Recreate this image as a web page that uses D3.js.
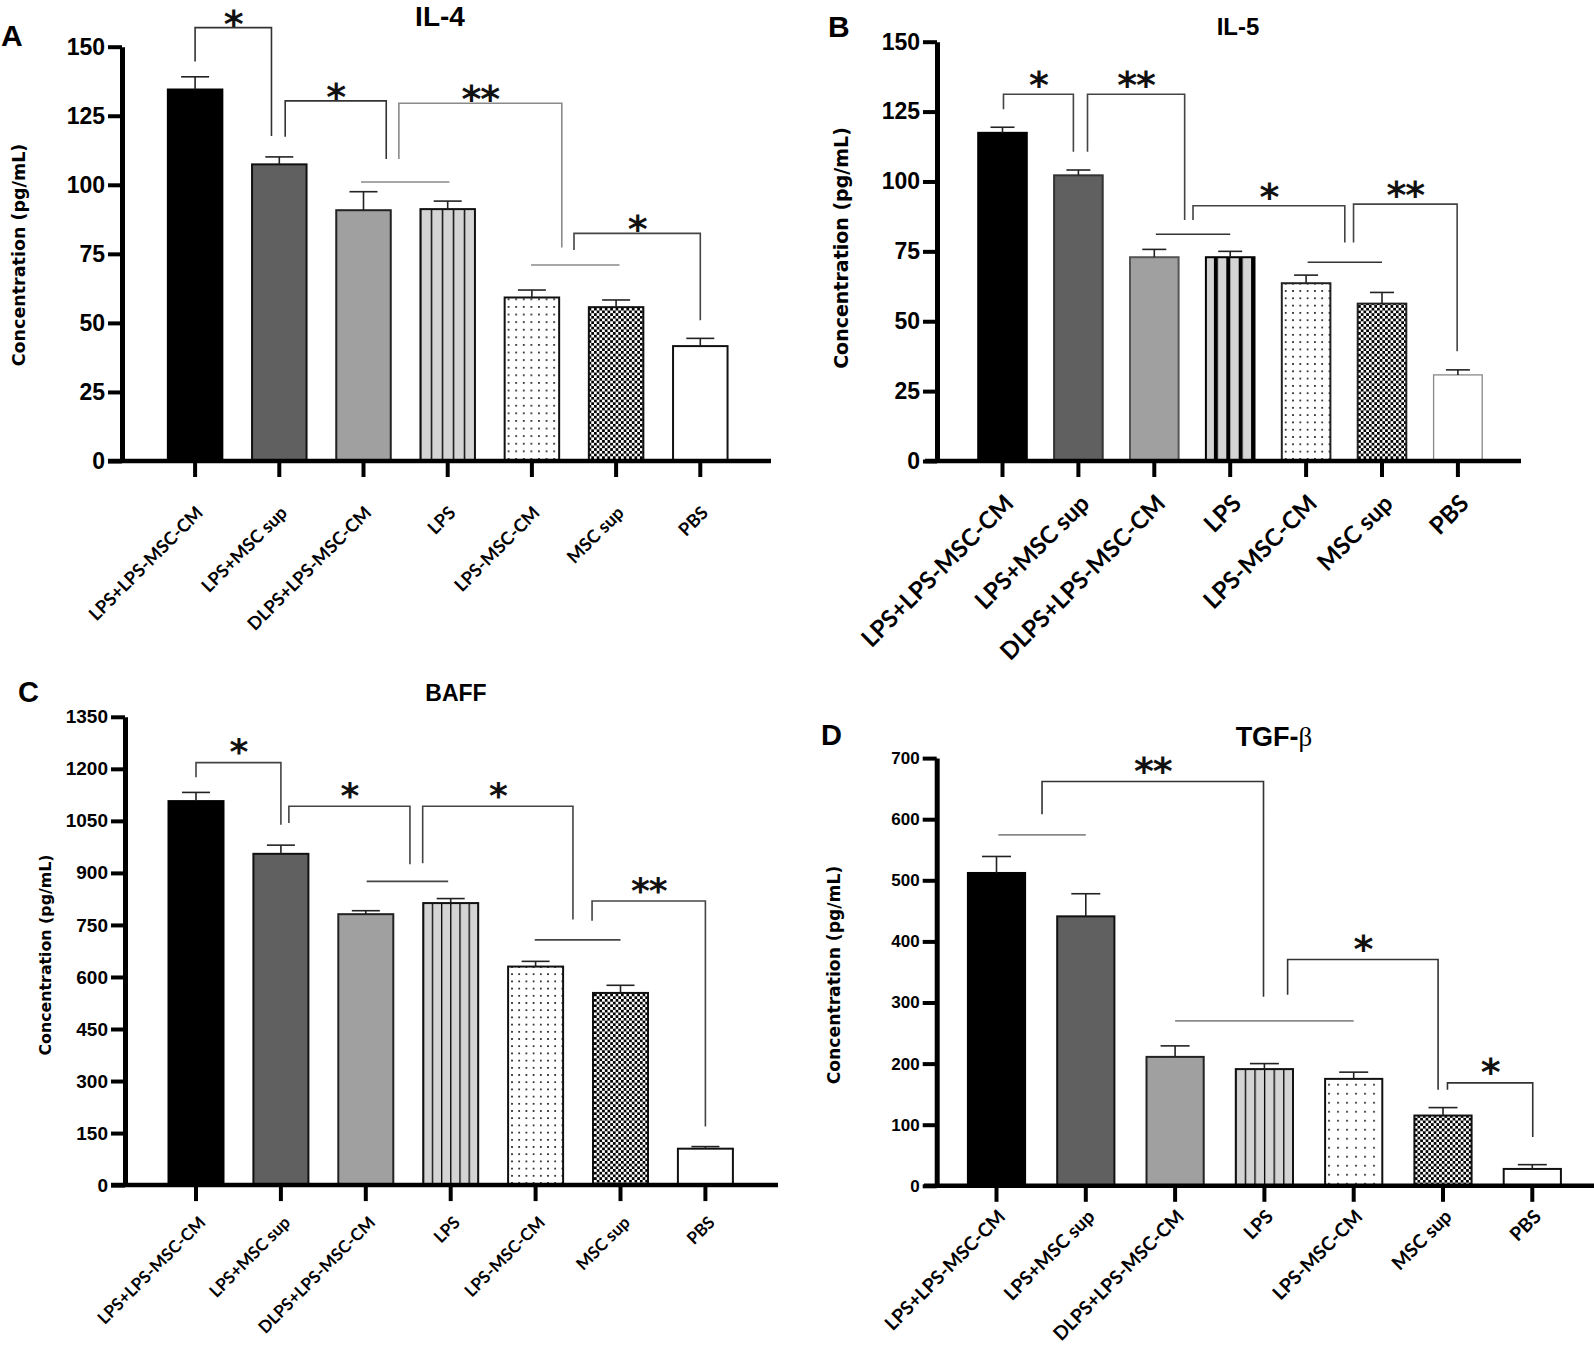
<!DOCTYPE html>
<html><head><meta charset="utf-8">
<script src="https://cdn.jsdelivr.net/npm/d3@7"></script>
<style>body{margin:0;background:#fff}svg{display:block;background:#fff}</style>
</head><body>
<svg id="chart" width="1594" height="1351"></svg>
<script>
// ---------------- DATA ----------------
const categories = ["LPS+LPS-MSC-CM","LPS+MSC sup","DLPS+LPS-MSC-CM","LPS","LPS-MSC-CM","MSC sup","PBS"];

const il4Mean = [134.5, 107.4, 90.8, 91.2, 59.2, 55.7, 41.6];
const il4Sem  = [4.6, 2.7, 6.7, 2.9, 2.7, 2.6, 2.8];
const il4Ticks = [0, 25, 50, 75, 100, 125, 150];

const il5Mean = [117.4, 102.2, 72.9, 72.9, 63.6, 56.3, 30.8];
const il5Sem  = [2.0, 1.9, 2.8, 2.1, 2.9, 4.0, 1.8];
const il5Ticks = [0, 25, 50, 75, 100, 125, 150];

const baffMean = [1107, 955, 781, 813, 630, 554, 105];
const baffSem  = [25, 25, 10, 13, 15, 22, 6];
const baffTicks = [0, 150, 300, 450, 600, 750, 900, 1050, 1200, 1350];

const tgfMean = [512, 441, 211, 191, 175, 115, 27.6];
const tgfSem  = [27, 37, 18, 9, 11, 13, 7];
const tgfTicks = [0, 100, 200, 300, 400, 500, 600, 700];

// significance brackets: category index (fractional) and value units
const il4Brackets = [
  {from:0.0,  to:0.907, fromY:144.6, topY:156.9, toY:117.7, mark:"*"},
  {from:1.07, to:2.27,  fromY:117.4, topY:130.4, toY:109.3, mark:"*"},
  {from:2.42, to:4.355, fromY:109.3, topY:129.5, toY:77.3,  mark:"**"},
  {from:4.50, to:6.0,   fromY:76.4,  topY:82.4,  toY:51.0,  mark:"*"}
];
const il4Groups = [{from:1.97, to:3.02, y:101.0}, {from:3.99, to:5.04, y:70.95}];

const il5Brackets = [
  {from:0.013, to:0.934, fromY:125.8, topY:131.2, toY:110.6, mark:"*"},
  {from:1.12,  to:2.40,  fromY:110.6, topY:131.2, toY:86.2,  mark:"**"},
  {from:2.51,  to:4.51,  fromY:86.2,  topY:91.3,  toY:78.2,  mark:"*"},
  {from:4.625, to:5.99,  fromY:78.2,  topY:91.9,  toY:39.3,  mark:"**"}
];
const il5Groups = [{from:2.02, to:3.0, y:81.1}, {from:4.02, to:5.0, y:71.1}];

const baffBrackets = [
  {from:0.0,   to:1.0,  fromY:1176, topY:1218, toY:1039, mark:"*"},
  {from:1.094, to:2.52, fromY:1044, topY:1092, toY:925,  mark:"*"},
  {from:2.67,  to:4.44, fromY:928,  topY:1092, toY:766,  mark:"*"},
  {from:4.665, to:6.0,  fromY:762,  topY:819,  toY:169,  mark:"**"}
];
const baffGroups = [{from:2.01, to:2.97, y:875.5}, {from:3.99, to:5.0, y:706.8}];

const tgfBrackets = [
  {from:0.51, to:2.99,  fromY:608.1, topY:661.7, toY:309.4, mark:"**"},
  {from:3.26, to:4.945, fromY:312.8, topY:370.3, toY:157.2, mark:"*"},
  {from:5.05, to:6.005, fromY:157.2, topY:168.5, toY:80.0,  mark:"*"}
];
const tgfGroups = [{from:0.02, to:1.0, y:574.3}, {from:2.0, to:4.0, y:270}];

// ---------------- LAYOUT / STYLE ----------------
const NARROW = "'Liberation Sans','Arial',sans-serif";
const LABEL = "Lato,'Open Sans',sans-serif";
const AXT = "'DejaVu Sans',Verdana,sans-serif";

const panels = [
  {id:"A", letter:"A", title:"IL-4", mean:il4Mean, sem:il4Sem, ticks:il4Ticks, yMax:150,
   brackets:il4Brackets, groups:il4Groups,
   ax:122, y0:461, yTop:46.7, xStart:108, xEnd:771, c0:195.1, step:84.2, barW:54.5, capW:28,
   tickFont:23, labFont:18, labDx:9, labDy:53,
   axTitle:{x:24.6, y:255, size:17.5},
   titlePos:{x:440, y:26, size:28}, letterPos:{x:1, y:46, size:30},
   stripe:{period:11, w:1.4, off:-0.7, fill:"#d4d4d4"}, dot:7.6,
   bracketCol:["#333","#333","#8a8a8a","#444"], groupCol:"#8a8a8a", starOff:13, starSize:38},
  {id:"B", letter:"B", title:"IL-5", mean:il5Mean, sem:il5Sem, ticks:il5Ticks, yMax:150,
   brackets:il5Brackets, groups:il5Groups,
   ax:937, y0:461, yTop:41.7, xStart:925, xEnd:1521, c0:1002.5, step:75.9, barW:48.6, capW:24,
   tickFont:23, labFont:24, labDx:12.5, labDy:44,
   axTitle:{x:848, y:248, size:19},
   titlePos:{x:1238, y:35, size:24}, letterPos:{x:828, y:37, size:30},
   stripe:{period:12.4, w:4, off:8, fill:"#d4d4d4"}, dot:7.3,
   bracketCol:["#444","#444","#444","#444"], groupCol:"#333", starOff:18, starSize:38},
  {id:"C", letter:"C", title:"BAFF", mean:baffMean, sem:baffSem, ticks:baffTicks, yMax:1350,
   brackets:baffBrackets, groups:baffGroups,
   ax:125, y0:1185.1, yTop:716.8, xStart:111, xEnd:778, c0:196, step:84.9, barW:55, capW:28,
   tickFont:19, labFont:17, labDx:10.5, labDy:38.5,
   axTitle:{x:51, y:955, size:15.8},
   titlePos:{x:456, y:701, size:23}, letterPos:{x:18, y:702, size:29},
   stripe:{period:9.2, w:1.3, off:-0.65, fill:"#d4d4d4"}, dot:7.2,
   bracketCol:["#444","#444","#444","#444"], groupCol:"#444", starOff:19, starSize:36},
  {id:"D", letter:"D", title:"TGF-", mean:tgfMean, sem:tgfSem, ticks:tgfTicks, yMax:700,
   brackets:tgfBrackets, groups:tgfGroups,
   ax:936.7, y0:1185.8, yTop:758.1, xStart:924, xEnd:1594, c0:996.5, step:89.3, barW:57.2, capW:29,
   tickFont:17, labFont:19, labDx:10, labDy:32,
   axTitle:{x:839.5, y:975, size:17.2},
   titlePos:{x:1274, y:746, size:27}, letterPos:{x:821, y:745, size:29},
   stripe:{period:9.6, w:1.3, off:-0.65, fill:"#d4d4d4"}, dot:9,
   bracketCol:["#333","#333","#333"], groupCol:"#8a8a8a", starOff:20, starSize:38}
];

const svg = d3.select("#chart");
const defs = svg.append("defs");

function drawPanel(p) {
  const g = svg.append("g").attr("class", "panel-" + p.id);
  const n = categories.length;
  const x = d3.scaleBand().domain(categories)
    .range([p.c0 - p.step / 2, p.c0 + p.step * (n - 0.5)]).padding(0);
  const cx = c => x(c) + x.bandwidth() / 2;
  const xi = d3.scaleLinear().domain([0, n - 1]).range([cx(categories[0]), cx(categories[n - 1])]);
  const y = d3.scaleLinear().domain([0, p.yMax]).range([p.y0, p.yTop]);

  // patterns
  const bar4Left = cx(categories[3]) - p.barW / 2;
  const st = defs.append("pattern").attr("id", "stripe" + p.id).attr("patternUnits", "userSpaceOnUse")
    .attr("x", bar4Left + p.stripe.off).attr("y", 0).attr("width", p.stripe.period).attr("height", 20);
  st.append("rect").attr("width", p.stripe.period).attr("height", 20).attr("fill", p.stripe.fill);
  st.append("rect").attr("x", 0).attr("width", p.stripe.w).attr("height", 20).attr("fill", "#000");

  const bar5Left = cx(categories[4]) - p.barW / 2;
  const dt = defs.append("pattern").attr("id", "dots" + p.id).attr("patternUnits", "userSpaceOnUse")
    .attr("x", bar5Left + 3).attr("y", p.y0 - 3).attr("width", p.dot).attr("height", p.dot);
  dt.append("rect").attr("width", p.dot).attr("height", p.dot).attr("fill", "#fff");
  dt.append("rect").attr("x", 0).attr("y", 0).attr("width", 1.8).attr("height", 1.8).attr("fill", "#333");

  const ck = defs.append("pattern").attr("id", "check" + p.id).attr("patternUnits", "userSpaceOnUse")
    .attr("x", 0).attr("y", 0).attr("width", 5.4).attr("height", 5.4);
  ck.append("rect").attr("width", 5.4).attr("height", 5.4).attr("fill", "#fff");
  ck.append("rect").attr("x", 0).attr("y", 0).attr("width", 2.7).attr("height", 2.7).attr("fill", "#000");
  ck.append("rect").attr("x", 2.7).attr("y", 2.7).attr("width", 2.7).attr("height", 2.7).attr("fill", "#000");

  const fills = ["#000", "#606060", "#a0a0a0", `url(#stripe${p.id})`, `url(#dots${p.id})`, `url(#check${p.id})`, "#fff"];
  const strokes = p.id === "B"
    ? ["#000", "#333", "#555", "#000", "#222", "#222", "#888"]
    : ["#000", "#111", "#222", "#111", "#111", "#111", "#111"];

  // bars
  g.selectAll("rect.bar").data(p.mean).join("rect").attr("class", "bar")
    .attr("x", (d, i) => cx(categories[i]) - p.barW / 2)
    .attr("y", d => y(d))
    .attr("width", p.barW)
    .attr("height", d => p.y0 - y(d))
    .attr("fill", (d, i) => fills[i])
    .attr("stroke", (d, i) => strokes[i])
    .attr("stroke-width", (d, i) => (p.id === "B" && i === 6) ? 1.3 : 2);

  // error bars
  const eb = g.selectAll("g.err").data(p.mean).join("g").attr("class", "err");
  eb.append("line")
    .attr("x1", (d, i) => cx(categories[i])).attr("x2", (d, i) => cx(categories[i]))
    .attr("y1", d => y(d)).attr("y2", (d, i) => y(d + p.sem[i]))
    .attr("stroke", "#222").attr("stroke-width", 1.6);
  eb.append("line")
    .attr("x1", (d, i) => cx(categories[i]) - p.capW / 2).attr("x2", (d, i) => cx(categories[i]) + p.capW / 2)
    .attr("y1", (d, i) => y(d + p.sem[i])).attr("y2", (d, i) => y(d + p.sem[i]))
    .attr("stroke", "#222").attr("stroke-width", 1.6);

  // axes
  const xa = g.append("g").attr("transform", `translate(0,${p.y0})`)
    .call(d3.axisBottom(x).tickSize(16).tickSizeOuter(0).tickFormat(""));
  xa.select(".domain").remove();
  xa.selectAll(".tick line").attr("stroke", "#000").attr("stroke-width", 4);
  g.append("line").attr("x1", p.xStart).attr("x2", p.xEnd).attr("y1", p.y0).attr("y2", p.y0)
    .attr("stroke", "#000").attr("stroke-width", 4.5);

  const ya = g.append("g").attr("transform", `translate(${p.ax},0)`)
    .call(d3.axisLeft(y).tickValues(p.ticks).tickFormat(d3.format("d"))
      .tickSize(14).tickSizeOuter(0).tickPadding(3));
  ya.select(".domain").attr("stroke", "#000").attr("stroke-width", 5);
  ya.selectAll(".tick line").attr("stroke", "#000").attr("stroke-width", 4);
  ya.selectAll(".tick text").attr("font-family", NARROW).attr("font-weight", "bold")
    .attr("font-size", p.tickFont).attr("fill", "#000");

  // category labels
  g.selectAll("text.cat").data(categories).join("text").attr("class", "cat")
    .attr("transform", d => `translate(${cx(d) + p.labDx},${p.y0 + p.labDy}) rotate(-45)`)
    .attr("text-anchor", "end").attr("font-family", LABEL).attr("font-weight", "bold")
    .attr("font-size", p.labFont).attr("fill", "#000").text(d => d);

  // group lines
  g.selectAll("line.grp").data(p.groups).join("line").attr("class", "grp")
    .attr("x1", d => xi(d.from)).attr("x2", d => xi(d.to))
    .attr("y1", d => y(d.y)).attr("y2", d => y(d.y))
    .attr("stroke", p.groupCol).attr("stroke-width", 1.6);

  // brackets
  g.selectAll("path.brk").data(p.brackets).join("path").attr("class", "brk")
    .attr("d", d => `M${xi(d.from)},${y(d.fromY)}V${y(d.topY)}H${xi(d.to)}V${y(d.toY)}`)
    .attr("fill", "none").attr("stroke", (d, i) => p.bracketCol[i]).attr("stroke-width", 1.6);
  g.selectAll("text.star").data(p.brackets).join("text").attr("class", "star")
    .attr("x", d => xi((d.from + d.to) / 2))
    .attr("y", d => y(d.topY) - p.starOff + 0.58 * p.starSize)
    .attr("text-anchor", "middle").attr("font-family", AXT).attr("font-weight", "bold")
    .attr("font-size", p.starSize).attr("letter-spacing", -1).attr("fill", "#111").text(d => d.mark);

  // axis title
  g.append("text").attr("transform", `translate(${p.axTitle.x},${p.axTitle.y}) rotate(-90)`)
    .attr("text-anchor", "middle").attr("font-family", AXT).attr("font-weight", "bold")
    .attr("font-size", p.axTitle.size).attr("fill", "#000").text("Concentration (pg/mL)");

  // title
  const t = g.append("text").attr("x", p.titlePos.x).attr("y", p.titlePos.y).attr("text-anchor", "middle")
    .attr("font-family", NARROW).attr("font-weight", "bold").attr("font-size", p.titlePos.size).attr("fill", "#000")
    .text(p.title);
  if (p.id === "D") t.append("tspan").attr("font-family", "'Liberation Serif','DejaVu Serif',serif")
    .attr("font-weight", "normal").text("β");

  // panel letter
  g.append("text").attr("x", p.letterPos.x).attr("y", p.letterPos.y)
    .attr("font-family", NARROW).attr("font-weight", "bold").attr("font-size", p.letterPos.size)
    .attr("fill", "#000").text(p.letter);
}

panels.forEach(drawPanel);
</script>
</body></html>
